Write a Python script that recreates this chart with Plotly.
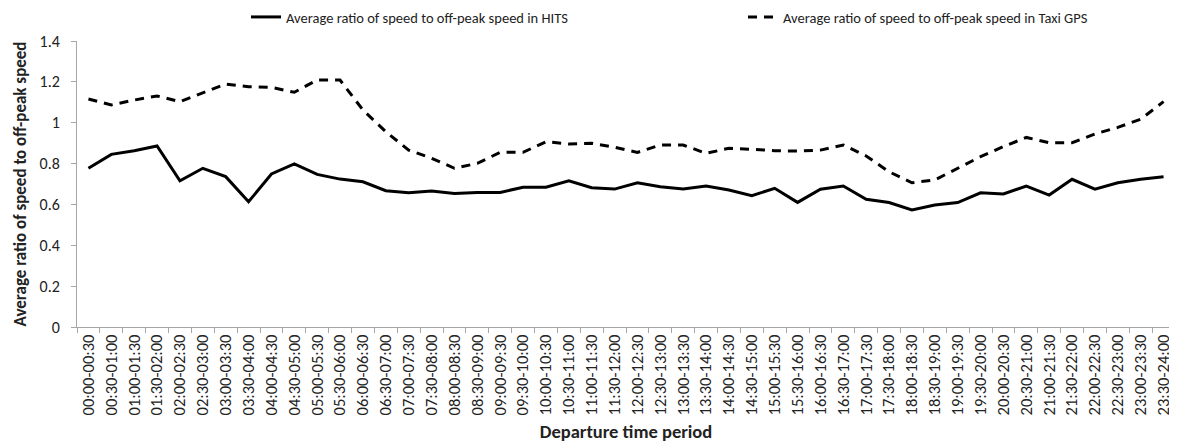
import plotly.graph_objects as go

periods = [
    "00:00-00:30", "00:30-01:00", "01:00-01:30", "01:30-02:00", "02:00-02:30", "02:30-03:00",
    "03:00-03:30", "03:30-04:00", "04:00-04:30", "04:30-05:00", "05:00-05:30", "05:30-06:00",
    "06:00-06:30", "06:30-07:00", "07:00-07:30", "07:30-08:00", "08:00-08:30", "08:30-09:00",
    "09:00-09:30", "09:30-10:00", "10:00-10:30", "10:30-11:00", "11:00-11:30", "11:30-12:00",
    "12:00-12:30", "12:30-13:00", "13:00-13:30", "13:30-14:00", "14:00-14:30", "14:30-15:00",
    "15:00-15:30", "15:30-16:00", "16:00-16:30", "16:30-17:00", "17:00-17:30", "17:30-18:00",
    "18:00-18:30", "18:30-19:00", "19:00-19:30", "19:30-20:00", "20:00-20:30", "20:30-21:00",
    "21:00-21:30", "21:30-22:00", "22:00-22:30", "22:30-23:00", "23:00-23:30", "23:30-24:00",
]

hits = [
    0.777, 0.845, 0.863, 0.886, 0.716, 0.777, 0.736, 0.613, 0.749, 0.798, 0.747, 0.724,
    0.711, 0.667, 0.657, 0.666, 0.654, 0.659, 0.659, 0.684, 0.684, 0.716, 0.682, 0.675,
    0.706, 0.687, 0.675, 0.690, 0.671, 0.643, 0.679, 0.610, 0.674, 0.690, 0.625, 0.609,
    0.573, 0.597, 0.609, 0.657, 0.651, 0.690, 0.646, 0.723, 0.675, 0.706, 0.723, 0.736,
]

taxi = [
    1.116, 1.087, 1.111, 1.131, 1.103, 1.147, 1.189, 1.176, 1.173, 1.149, 1.209, 1.209,
    1.062, 0.956, 0.866, 0.826, 0.777, 0.801, 0.855, 0.855, 0.907, 0.896, 0.899, 0.880,
    0.855, 0.891, 0.891, 0.850, 0.875, 0.870, 0.863, 0.861, 0.866, 0.891, 0.837, 0.760,
    0.706, 0.720, 0.777, 0.834, 0.883, 0.928, 0.902, 0.902, 0.945, 0.977, 1.017, 1.103,
]

FONT = "Carlito, Lato, 'Open Sans', sans-serif"
TXT = "#222"

# The page body has an 8px default margin, so the figure is sized to fit inside it.
W, H = 1169, 438

fig = go.Figure()
fig.add_trace(go.Scatter(
    x=periods, y=hits, mode="lines",
    name="Average ratio of speed to off-peak speed in HITS",
    line=dict(color="black", width=3),
    legend="legend",
))
fig.add_trace(go.Scatter(
    x=periods, y=taxi, mode="lines",
    name="Average ratio of speed to off-peak speed in Taxi GPS",
    line=dict(color="black", width=3, dash="9px,7px"),
    legend="legend2",
))

leg_common = dict(
    orientation="h", yanchor="middle", xanchor="left",
    xref="container", yref="container",
    font=dict(size=14.5, color=TXT, family=FONT),
    itemwidth=30, bgcolor="rgba(0,0,0,0)",
    borderwidth=0, tracegroupgap=0,
)

fig.update_layout(
    width=W, height=H,
    margin=dict(l=69, r=2, t=33, b=119, autoexpand=False),
    paper_bgcolor="white", plot_bgcolor="white",
    font=dict(family=FONT, size=14, color=TXT),
    showlegend=True,
    legend=dict(x=238 / W, y=1 - 9 / H, **leg_common),
    legend2=dict(x=735 / W, y=1 - 9 / H, **leg_common),
    xaxis=dict(
        type="category", automargin=False, range=[-0.5, 47.5],
        showline=True, linecolor="#a6a6a6", linewidth=1,
        ticks="outside", tickcolor="#a6a6a6", ticklen=5, tickson="boundaries",
        tickangle=-90, tickfont=dict(size=16.5, color=TXT),
        showgrid=False,
        title=dict(text="<b>Departure time period</b>", font=dict(size=18.5, color=TXT), standoff=10),
    ),
    yaxis=dict(
        range=[0, 1.4], dtick=0.2, automargin=False,
        showline=True, linecolor="#a6a6a6", linewidth=1,
        ticks="outside", tickcolor="#a6a6a6", ticklen=5,
        ticklabelstandoff=8,
        showgrid=False, zeroline=False,
        tickfont=dict(size=16, color=TXT),
        title=dict(text="<b>Average ratio of speed to off-peak speed</b>", font=dict(size=17, color=TXT), standoff=8),
    ),
)

fig.write_html("out.html")
